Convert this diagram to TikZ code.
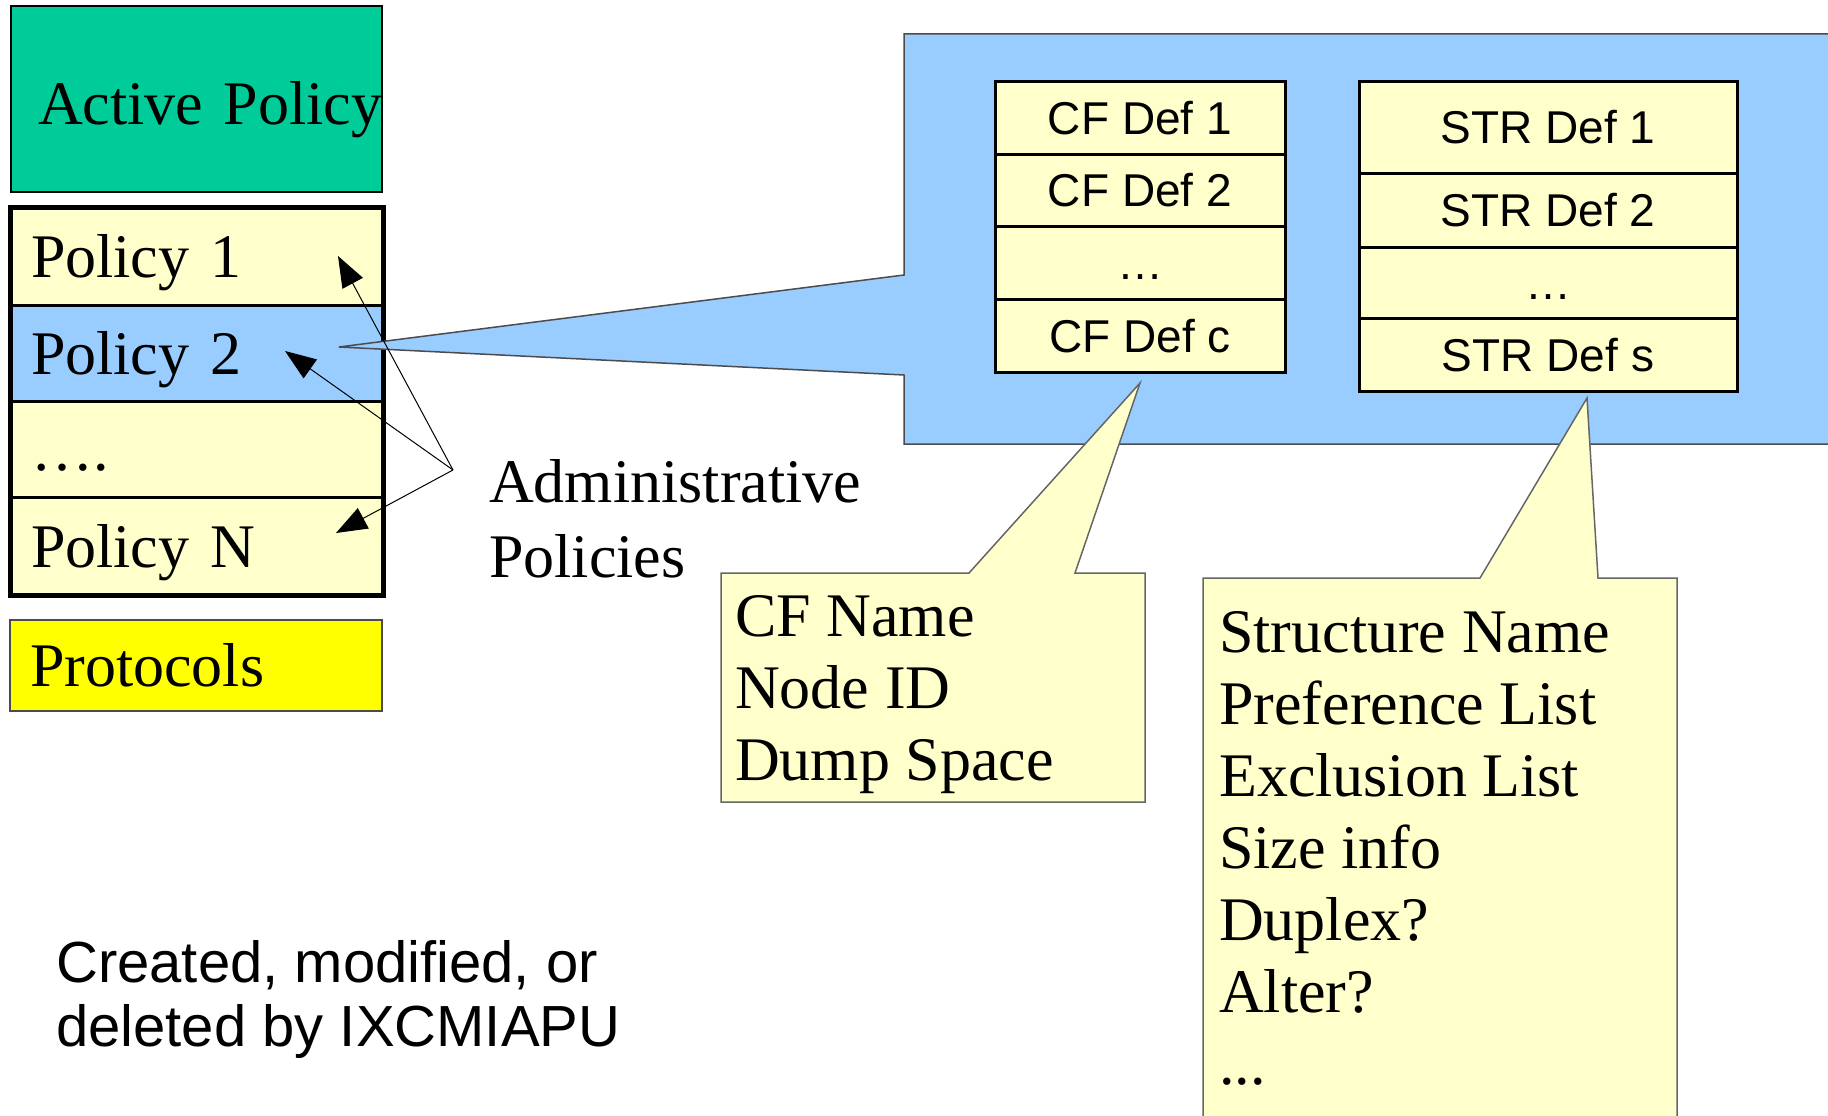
\documentclass[tikz,border=0pt]{standalone}
\usepackage{fontspec}
\setmainfont{Liberation Serif}
\setsansfont{Liberation Sans}
\usetikzlibrary{arrows.meta}

\definecolor{activegreen}{HTML}{00CC99}
\definecolor{noteyellow}{HTML}{FFFFCC}
\definecolor{calloutblue}{HTML}{99CCFF}
\definecolor{protoyellow}{HTML}{FFFF00}

\tikzset{
  bigserif/.style={font=\fontsize{62}{72}\selectfont},
  activebox/.style={draw, line width=2.5pt, fill=activegreen, anchor=north west, outer sep=0pt,
    minimum width=371pt, minimum height=186pt, inner xsep=27pt, inner ysep=0pt,
    text width=317pt, align=left, text height=50pt, text depth=0pt, bigserif},
  policyrow/.style={draw, line width=3pt, anchor=north west, outer sep=0pt,
    minimum height=#1, inner xsep=21pt, inner ysep=0pt, text width=331pt, align=left,
    text height=43pt, text depth=0pt, bigserif},
  protobox/.style={draw=black!70, line width=1.5pt, fill=protoyellow, anchor=north west, outer sep=0pt,
    minimum height=91pt, inner xsep=20pt, inner ysep=0pt, text width=332pt, align=left,
    text height=41pt, text depth=0pt, bigserif},
  defcell/.style={draw, line width=3pt, fill=noteyellow, anchor=north west, outer sep=0pt,
    inner sep=0pt, minimum height=#1, text height=33pt, text depth=0pt,
    font=\sffamily\fontsize{46}{50}\selectfont},
  cfcell/.style={defcell=#1, minimum width=290pt},
  strcell/.style={defcell=#1, minimum width=378pt},
  bigcallout/.style={fill=calloutblue, draw=black!70, line width=1.5pt},
  note/.style={fill=noteyellow, draw=black!60, line width=1.5pt},
  % base of a multi-line node is the baseline of its last line
  notetext/.style={anchor=base west, inner sep=0pt, align=left, bigserif},
  fanarrow/.style={line width=1pt, -{Triangle[length=31pt,width=23pt]}}
}

\begin{document}
\begin{tikzpicture}[x=1pt, y=-1pt]
  \useasboundingbox (0,0) rectangle (1828,1116);

  % Active policy and the policy stack
  \node[activebox] (active) at (11,6) {\mbox{Active Policy}};
  \node[policyrow=98pt, fill=noteyellow] (pol1) at (10,207) {Policy 1};
  \node[policyrow=96pt, fill=calloutblue] (pol2) at (10,305) {Policy 2};
  \node[policyrow=96pt, fill=noteyellow] (poldots) at (10,401) {….};
  \node[policyrow=98pt, fill=noteyellow] (polN) at (10,497) {Policy N};
  \draw[line width=5pt] (pol1.north west) rectangle (polN.south east);
  \node[protobox] (proto) at (10,620) {Protocols};

  % Big callout from Policy 2
  \coordinate (bigtip) at (339,347);
  \draw[bigcallout] (904,34) -- (1840,34) -- (1840,444) -- (904,444) -- (904,375)
    -- (bigtip) -- (904,275) -- cycle;

  % CF definitions
  \node[cfcell=73pt] (cf1) at (995,81) {CF Def 1};
  \node[cfcell=72pt] (cf2) at (995,154) {CF Def 2};
  \node[cfcell=73pt] (cf3) at (995,226) {…};
  \node[cfcell=73pt] (cf4) at (995,299) {CF Def c};

  % STR definitions
  \node[strcell=92pt] (str1) at (1359,81) {STR Def 1};
  \node[strcell=74pt] (str2) at (1359,173) {STR Def 2};
  \node[strcell=71pt] (str3) at (1359,247) {…};
  \node[strcell=73pt] (str4) at (1359,318) {STR Def s};

  % Small callouts
  \coordinate (cftip) at (1140,383);
  \draw[note] (721,573) -- (969,573) -- (cftip) -- (1075,573) -- (1145,573)
    -- (1145,802) -- (721,802) -- cycle;
  \node[notetext] (cfinfo) at (735,780) {CF Name\\Node ID\\Dump Space};

  \coordinate (strtip) at (1587,398);
  \draw[note] (1203,578) -- (1480,578) -- (strtip) -- (1598,578) -- (1677,578)
    -- (1677,1130) -- (1203,1130) -- cycle;
  \node[notetext] (strinfo) at (1219,1084) {Structure Name\\Preference List\\Exclusion List\\Size info\\Duplex?\\Alter?\\...};

  % Administrative policies
  \node[notetext, font=\fontsize{62}{75}\selectfont] (admin) at (489,577) {Administrative\\Policies};
  \coordinate (fan) at (453,470);
  \coordinate (tip1) at (338,256);
  \coordinate (tip2) at (285,351);
  \coordinate (tipN) at (336,533);
  \draw[fanarrow] (fan) -- (tip1);
  \draw[fanarrow] (fan) -- (tip2);
  \draw[fanarrow] (fan) -- (tipN);

  % Footnote
  \node[anchor=base west, inner sep=0pt, align=left, font=\sffamily\fontsize{58}{64}\selectfont]
    (creator) at (56,1046) {Created, modified, or\\deleted by IXCMIAPU};
\end{tikzpicture}
\end{document}
